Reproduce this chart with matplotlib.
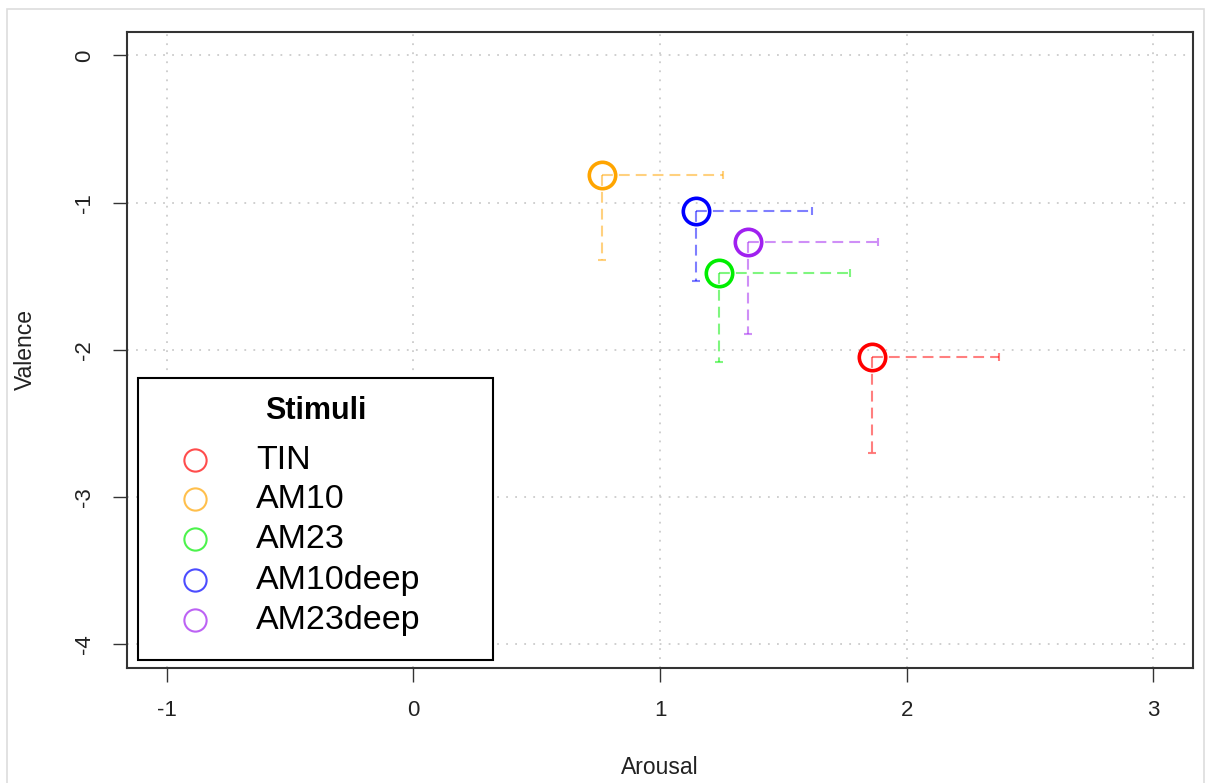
import matplotlib
matplotlib.use("Agg")
import matplotlib.pyplot as plt
from matplotlib.patches import Rectangle

plt.rcParams['font.family'] = ['Liberation Sans', 'DejaVu Sans']

stimuli = ['TIN', 'AM10', 'AM23', 'AM10deep', 'AM23deep']
arousal = [1.858, 0.764, 1.240, 1.146, 1.358]
valence = [-2.045, -0.812, -1.479, -1.056, -1.265]
arousal_sd = [0.515, 0.490, 0.530, 0.469, 0.527]
valence_sd = [0.652, 0.577, 0.605, 0.474, 0.626]
colors = ['#FF0000', '#FFA500', '#00EE00', '#0000FF', '#A020F0']
xticks = [-1, 0, 1, 2, 3]
yticks = [0, -1, -2, -3, -4]

fig = plt.figure(figsize=(12.09, 7.83), dpi=100)
fig.patches.append(Rectangle((7/1209, -0.1), (1204-7)/1209, 1.1 - 9/783,
                             transform=fig.transFigure, fill=False,
                             edgecolor='#DDDDDD', linewidth=1.2))
ax = fig.add_axes([127.1/1209, 1-668/783, (1192.9-127.1)/1209, (668-31.8)/783])
ax.set_xlim(-1.16, 3.16)
ax.set_ylim(-4.16, 0.16)

ax.set_xticks(xticks)
ax.set_yticks(yticks)
ax.set_xticklabels([str(v) for v in xticks])
ax.set_yticklabels([str(v) for v in yticks], rotation=90, va='center')
ax.tick_params(direction='out', length=10, width=1.0, labelsize=16, color='#333333',
               labelcolor='#222222')
ax.tick_params(axis='x', pad=13)
ax.tick_params(axis='y', pad=13)
ax.grid(True, color='#CCCCCC', linestyle=(0, (1, 4)), linewidth=1.3)
ax.set_axisbelow(True)
for s in ax.spines.values():
    s.set_linewidth(1.5)
    s.set_color('#333333')

ax.set_xlabel('Arousal', fontsize=16.5, va='center', color='#222222')
ax.xaxis.set_label_coords(0.5, -(768 - 668) / 636.2)
ax.set_ylabel('Valence', fontsize=16.5, va='center', color='#222222')
ax.yaxis.set_label_coords((25 - 127.1) / 1065.8, 0.5)

for x, y, xs, ys, c in zip(arousal, valence, arousal_sd, valence_sd, colors):
    ax.plot([x, x + xs], [y, y], color=c, alpha=0.5, lw=1.5, dashes=(5.2, 2.9))
    ax.plot([x, x], [y, y - ys], color=c, alpha=0.5, lw=1.5, dashes=(5.2, 2.9))
    ax.plot([x + xs], [y], marker='|', ms=6, mew=1.5, color=c, alpha=0.5)
    ax.plot([x], [y - ys], marker='_', ms=6, mew=1.5, color=c, alpha=0.5)
    ax.plot([x], [y], marker='o', ms=19, mfc='none', mec=c, mew=2.6, zorder=5)

# legend box (drawn in axes fraction coordinates)
T = ax.transAxes
ax.add_patch(Rectangle((0.0102, 0.0126), 0.3433 - 0.0102, 0.4558 - 0.0126,
                       transform=T, facecolor='white', edgecolor='black',
                       linewidth=1.5, zorder=10))
ax.text((0.0102 + 0.3433) / 2, 0.4040, 'Stimuli', transform=T, ha='center',
        va='center', fontsize=22, fontweight='bold', zorder=11)
entry_y = [0.3269, 0.2656, 0.2027, 0.1383, 0.0754]
for lab, c, yy in zip(stimuli, colors, entry_y):
    ax.plot([0.0637], [yy], transform=T, marker='o', ms=16, mfc='none', mec=c,
            mew=1.5, alpha=0.7, zorder=11, clip_on=False)
    ax.text(0.1209, yy, lab, transform=T, ha='left', va='center',
            fontsize=24.5, zorder=11)

fig.savefig('out.png', dpi=100)
